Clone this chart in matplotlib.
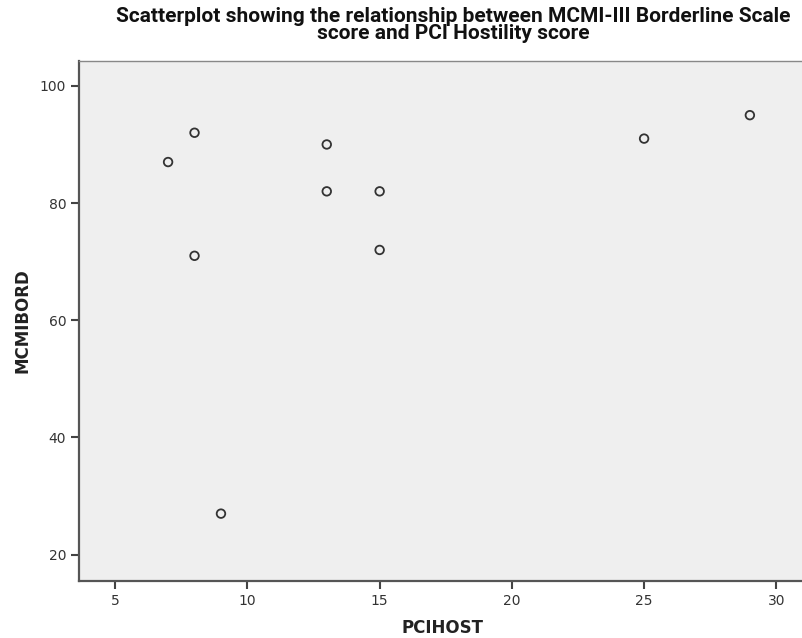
import matplotlib
matplotlib.use('Agg')
import matplotlib.pyplot as plt

# PCI Hostility score vs MCMI-III Borderline score
pcihost = [7, 8, 8, 9, 13, 13, 15, 15, 25, 29]
mcmibord = [87, 92, 71, 27, 90, 82, 82, 72, 91, 95]

x_ticks = [5, 10, 15, 20, 25, 30]
y_ticks = [20, 40, 60, 80, 100]

fig = plt.figure(figsize=(8.03, 6.38), dpi=100)
ax = fig.add_axes([0.098, 0.0893, 0.905, 0.8156])
ax.set_facecolor('#efefef')

ax.scatter(pcihost, mcmibord, s=38, facecolors='none', edgecolors='#333333', linewidths=1.3, zorder=3)

ax.set_xlim(3.62, 31.1)
ax.set_ylim(15.5, 104.3)
ax.set_xticks(x_ticks)
ax.set_yticks(y_ticks)

for side in ['left', 'bottom']:
    ax.spines[side].set_color('#555555')
    ax.spines[side].set_linewidth(1.6)
ax.spines['top'].set_color('#888888')
ax.spines['top'].set_linewidth(1.0)
ax.spines['right'].set_visible(False)

ax.tick_params(direction='out', length=6, width=1.5, color='#444444',
               labelsize=10, labelcolor='#333333', pad=3)

ax.set_xlabel('PCIHOST', fontsize=12, fontweight='bold', color='#222222', labelpad=8)
ax.set_ylabel('MCMIBORD', fontsize=12, fontweight='bold', color='#222222', labelpad=6)

# title sits a bit right of centre, like the original
fig.text(0.565, 0.989, 'Scatterplot showing the relationship between MCMI-III Borderline Scale\nscore and PCI Hostility score',
         ha='center', va='top', fontsize=15, fontweight='bold', linespacing=0.88,
         family=['Roboto', 'DejaVu Sans'], color='#111111')

fig.savefig('out.png', dpi=100)
